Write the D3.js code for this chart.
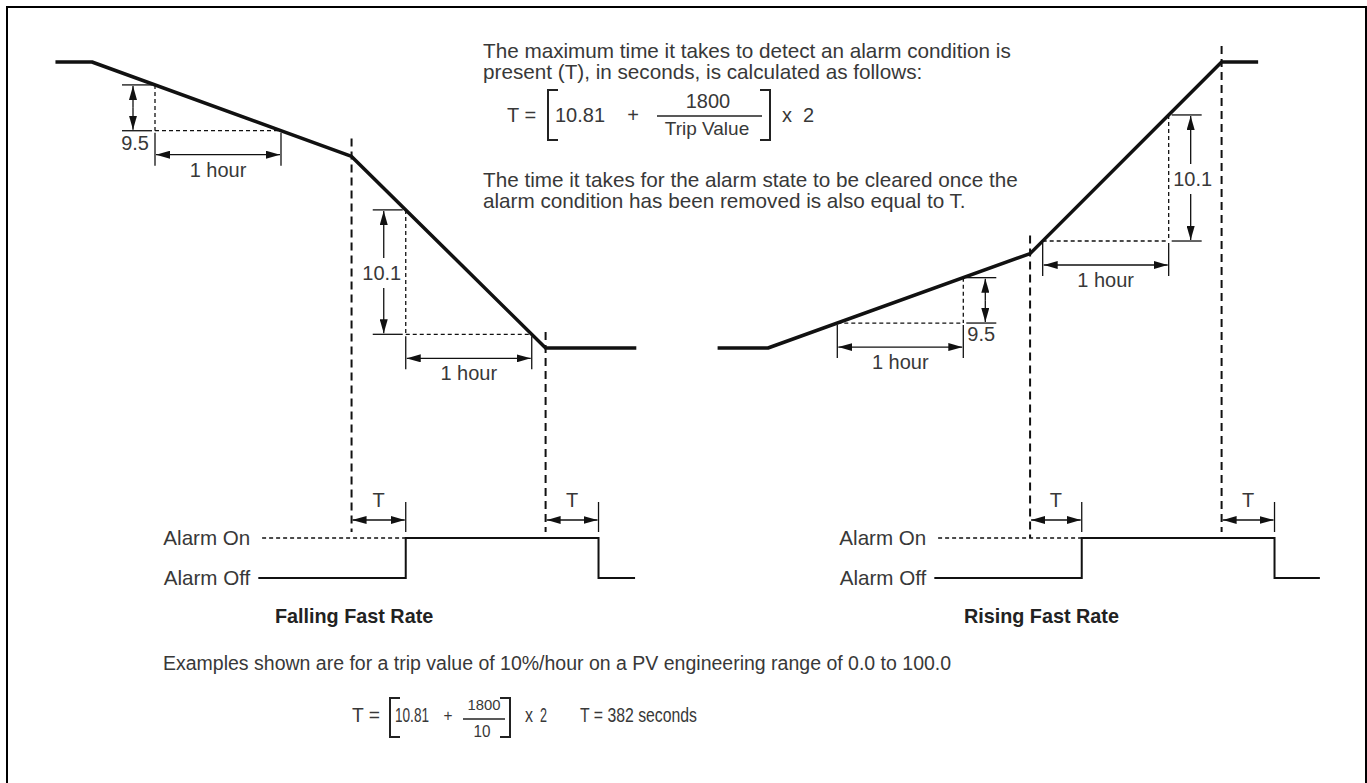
<!DOCTYPE html>
<html>
<head>
<meta charset="utf-8">
<script src="https://cdn.jsdelivr.net/npm/d3@7"></script>
<style>
  body { margin: 0; background: #fff; }
  svg { display: block; font-family: "Liberation Sans", Arial, sans-serif; }
  text { fill: #383838; }
</style>
</head>
<body>
<svg width="1367" height="783"></svg>
<script>
// process value, hours against % of the drawn span
var fallingProfile = [
  {hour: -0.29, level: 100},
  {hour: 0, level: 100},
  {hour: 2.06, level: 67},
  {hour: 3.6, level: 0},
  {hour: 4.32, level: 0}
];
var risingProfile = [
  {hour: -0.4, level: 0},
  {hour: 0, level: 0},
  {hour: 2.08, level: 33},
  {hour: 3.6, level: 100},
  {hour: 3.89, level: 100}
];

// one hour windows with the change shown for each
var fallingWindows = [{start: 0.5, label: "9.5"}, {start: 2.49, label: "10.1"}];
var risingWindows = [{start: 0.55, label: "9.5"}, {start: 2.18, label: "10.1"}];

// alarm output, 0 = off, 1 = on
var fallingAlarm = [
  {hour: 1.32, state: 0}, {hour: 2.49, state: 0}, {hour: 2.49, state: 1},
  {hour: 4.02, state: 1}, {hour: 4.02, state: 0}, {hour: 4.31, state: 0}
];
var risingAlarm = [
  {hour: 1.32, state: 0}, {hour: 2.49, state: 0}, {hour: 2.49, state: 1},
  {hour: 4.02, state: 1}, {hour: 4.02, state: 0}, {hour: 4.38, state: 0}
];
var alarmOnDashStart = 1.35;
var alarmLabels = ["Alarm On", "Alarm Off"];
var panelTitles = ["Falling Fast Rate", "Rising Fast Rate"];
var titleHours = [2.08, 2.17];

var introLines = [
  "The maximum time it takes to detect an alarm condition is",
  "present (T), in seconds, is calculated as follows:"
];
var clearLines = [
  "The time it takes for the alarm state to be cleared once the",
  "alarm condition has been removed is also equal to T."
];
var exampleNote = "Examples shown are for a trip value of 10%/hour on a PV engineering range of 0.0 to 100.0";

var svg = d3.select("svg");
var width = +svg.attr("width");
var height = +svg.attr("height");

var ink = "#111";

var levelY = d3.scaleLinear().domain([0, 100]).range([348, 62]);
var alarmY = d3.scaleLinear().domain([0, 1]).range([578, 538]);
var fallingX = d3.scaleLinear().domain([0, 1]).range([92, 218]);
var risingX = d3.scaleLinear().domain([0, 1]).range([768, 894]);

svg.append("rect")
    .attr("x", 7).attr("y", 7)
    .attr("width", width - 8).attr("height", height + 20)
    .attr("fill", "none")
    .attr("stroke", "#000")
    .attr("stroke-width", 2);

svg.append("defs")
  .append("marker")
    .attr("id", "head")
    .attr("viewBox", "0 0 14 8")
    .attr("refX", 14).attr("refY", 4)
    .attr("markerWidth", 14).attr("markerHeight", 8)
    .attr("markerUnits", "userSpaceOnUse")
    .attr("orient", "auto-start-reverse")
  .append("path")
    .attr("d", "M0,0L14,4L0,8Z")
    .attr("fill", ink);

function levelAt(profile, hour) {
  for (var i = 0; i < profile.length - 1; i++) {
    var a = profile[i], b = profile[i + 1];
    if (hour >= a.hour && hour <= b.hour) {
      return a.level + (b.level - a.level) * (hour - a.hour) / (b.hour - a.hour);
    }
  }
  return profile[profile.length - 1].level;
}

function seg(g, x1, y1, x2, y2, style) {
  var l = g.append("line")
      .attr("x1", x1).attr("y1", y1)
      .attr("x2", x2).attr("y2", y2)
      .attr("stroke", ink)
      .attr("stroke-width", 1.3);
  if (style === "dash") l.attr("stroke-dasharray", "4,3");
  if (style === "long") l.attr("stroke-dasharray", "8,5").attr("stroke-width", 2);
  if (style === "arrow") l.attr("marker-end", "url(#head)");
  if (style === "both") l.attr("marker-start", "url(#head)").attr("marker-end", "url(#head)");
  return l;
}

function label(g, txt, x, y, anchor, size) {
  return g.append("text")
      .text(txt)
      .attr("x", x).attr("y", y)
      .style("text-anchor", anchor || "start")
      .style("font-size", (size || 20) + "px");
}

// the worked example is set in a condensed face, squeeze to the measured width
function narrow(txt, x, y, anchor, size, len) {
  return label(svg, txt, x, y, anchor, size)
      .attr("textLength", len)
      .attr("lengthAdjust", "spacingAndGlyphs");
}

function drawPanel(profile, windows, alarm, x, rising, title, titleHour) {
  var g = svg.append("g");

  var line = d3.line()
      .x(d => x(d.hour))
      .y(d => levelY(d.level));

  g.append("path")
      .datum(profile)
      .attr("d", line)
      .attr("fill", "none")
      .attr("stroke", ink)
      .attr("stroke-width", 3.5)
      .attr("stroke-linejoin", "round");

  // rate windows
  windows.forEach(function(w) {
    var end = w.start + 1;
    var xs = x(w.start), xe = x(end);
    var yA = levelY(levelAt(profile, w.start));
    var yB = levelY(levelAt(profile, end));
    var top = Math.min(yA, yB), low = Math.max(yA, yB);
    var xv = rising ? xe : xs;
    var dir = rising ? 1 : -1;
    var ax = xv + dir * 22;

    seg(g, xv, top, xv, low, "dash");
    seg(g, xs, low, xe, low, "dash");
    seg(g, xv + dir * 3, top, xv + dir * 33, top);
    seg(g, xv + dir * 3, low, xv + dir * 33, low);

    if (low - top < 70) {
      seg(g, ax, (top + low) / 2, ax, top + 1, "arrow");
      seg(g, ax, (top + low) / 2, ax, low - 1, "arrow");
      if (rising) label(g, w.label, xv + 4, low + 18, "start");
      else label(g, w.label, xv - 6, low + 19, "end");
    } else {
      var mid = (top + low) / 2;
      seg(g, ax, mid - 14, ax, top + 1, "arrow");
      seg(g, ax, mid + 16, ax, low - 1, "arrow");
      label(g, w.label, ax + dir * 2, mid + 8, "middle");
    }

    var ay = low + 24;
    seg(g, xs, low + 2, xs, low + 35);
    seg(g, xe, low + 2, xe, low + 35);
    seg(g, xs + 1, ay, xe - 1, ay, "both");
    label(g, "1 hour", (xs + xe) / 2, ay + 22, "middle");
  });

  // alarm trace
  var onHour = alarm[2].hour, offHour = alarm[4].hour;
  var kneeHour = profile[2].hour, flatHour = profile[3].hour;

  seg(g, x(kneeHour), levelY(profile[2].level) - 18, x(kneeHour), rising ? alarmY(1) : alarmY(1) - 6, "long");
  seg(g, x(flatHour), levelY(profile[3].level) - 16, x(flatHour), alarmY(1) - 6, "long");

  seg(g, x(alarmOnDashStart), alarmY(1), x(onHour), alarmY(1), "dash");

  var step = d3.line()
      .x(d => x(d.hour))
      .y(d => alarmY(d.state));

  g.append("path")
      .datum(alarm)
      .attr("d", step)
      .attr("fill", "none")
      .attr("stroke", ink)
      .attr("stroke-width", 2);

  [[kneeHour, onHour], [flatHour, offHour]].forEach(function(p) {
    seg(g, x(p[1]), alarmY(1) - 36, x(p[1]), alarmY(1) - 6);
    seg(g, x(p[0]) + 1, alarmY(1) - 18, x(p[1]) - 1, alarmY(1) - 18, "both");
    label(g, "T", (x(p[0]) + x(p[1])) / 2, alarmY(1) - 31, "middle");
  });

  label(g, alarmLabels[0], x(alarm[0].hour) - 8, alarmY(1) + 7, "end", 20.6);
  label(g, alarmLabels[1], x(alarm[0].hour) - 8, alarmY(0) + 7, "end", 20.6);

  label(g, title, x(titleHour), 623, "middle", 19.8)
      .style("font-weight", "bold")
      .style("fill", "#222");
}

drawPanel(fallingProfile, fallingWindows, fallingAlarm, fallingX, false, panelTitles[0], titleHours[0]);
drawPanel(risingProfile, risingWindows, risingAlarm, risingX, true, panelTitles[1], titleHours[1]);

// explanatory text
introLines.forEach(function(t, i) {
  label(svg, t, 483, 58 + i * 21, "start", 20.7);
});
clearLines.forEach(function(t, i) {
  label(svg, t, 483, 187 + i * 21, "start", 20.7);
});

function bracket(x, y1, y2, dir) {
  svg.append("path")
      .attr("d", "M" + (x + dir * 10) + "," + y1 + "H" + x + "V" + y2 + "H" + (x + dir * 10))
      .attr("fill", "none")
      .attr("stroke", "#222")
      .attr("stroke-width", 2);
}

// top formula
label(svg, "T =", 507, 122, "start", 20);
bracket(548, 90, 140, 1);
label(svg, "10.81", 555, 122, "start", 20);
label(svg, "+", 633, 122, "middle", 20);
label(svg, "1800", 708, 108, "middle", 20);
seg(svg, 657, 116, 762, 116).attr("stroke", "#222");
label(svg, "Trip Value", 707, 135, "middle", 19);
bracket(770, 90, 140, -1);
label(svg, "x", 782, 122, "start", 20);
label(svg, "2", 803, 122, "start", 20);

// worked example
label(svg, exampleNote, 163, 670, "start", 19.5);
narrow("T =", 352, 722, "start", 20, 28);
bracket(390, 698, 737, 1);
narrow("10.81", 395, 722, "start", 20, 34);
narrow("+", 448, 721, "middle", 17, 9);
narrow("1800", 484, 710, "middle", 15.5, 33);
seg(svg, 463, 719, 505, 719).attr("stroke", "#222");
narrow("10", 482, 737, "middle", 17, 17);
bracket(510, 698, 737, -1);
narrow("x", 525, 722, "start", 20, 8);
narrow("2", 540, 722, "start", 20, 7);
narrow("T = 382 seconds", 580, 722, "start", 20, 117);
</script>
</body>
</html>
